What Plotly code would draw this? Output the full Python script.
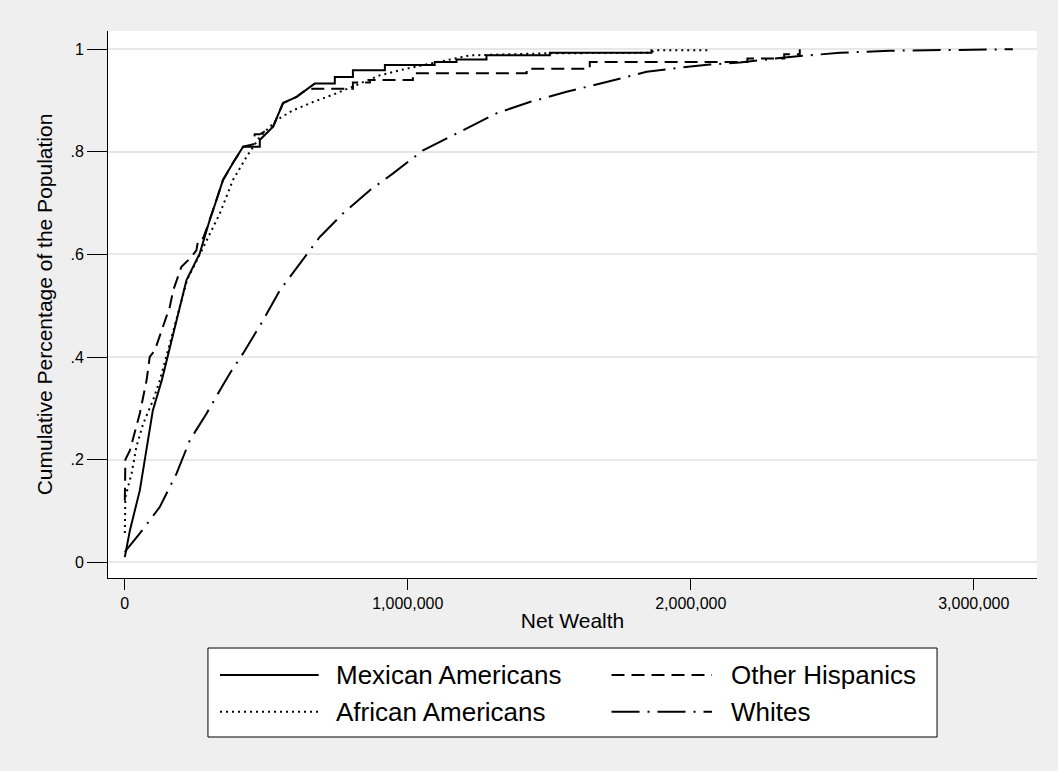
import plotly.graph_objects as go

# ---------------- data (net wealth in dollars, cumulative share) ----------------
mex_wealth = [0, 18e3, 53e3, 71e3, 99e3, 131e3, 183e3, 218e3, 265e3, 300e3, 324e3, 347e3,
              382e3, 418e3, 477e3, 477e3, 524e3, 559e3, 607e3, 630e3, 671e3, 742e3, 742e3,
              806e3, 806e3, 919e3, 919e3, 1095e3, 1095e3, 1172e3, 1172e3, 1278e3, 1278e3,
              1502e3, 1502e3, 1861e3, 1861e3]
mex_cum = [0.01, 0.062, 0.140, 0.199, 0.296, 0.355, 0.472, 0.550, 0.602, 0.667, 0.706, 0.745,
           0.778, 0.810, 0.810, 0.823, 0.849, 0.895, 0.907, 0.917, 0.933, 0.933, 0.946,
           0.946, 0.959, 0.959, 0.969, 0.969, 0.975, 0.975, 0.980, 0.980, 0.988,
           0.988, 0.993, 0.993, 1.0]

oth_wealth = [0, 2e3, 18e3, 35e3, 53e3, 77e3, 88e3, 106e3, 135e3, 159e3, 171e3, 200e3, 230e3,
              253e3, 259e3, 277e3, 300e3, 324e3, 347e3, 382e3, 418e3, 455e3, 459e3, 477e3,
              524e3, 559e3, 607e3, 630e3, 665e3, 806e3, 806e3, 866e3, 866e3, 1018e3, 1018e3,
              1420e3, 1420e3, 1643e3, 1643e3, 2200e3, 2200e3, 2330e3, 2330e3, 2385e3, 2385e3]
oth_cum = [0.12, 0.20, 0.218, 0.251, 0.290, 0.355, 0.400, 0.413, 0.462, 0.498, 0.530, 0.576, 0.592,
           0.608, 0.628, 0.632, 0.667, 0.706, 0.745, 0.778, 0.810, 0.815, 0.834, 0.834,
           0.849, 0.895, 0.907, 0.917, 0.923, 0.923, 0.935, 0.935, 0.940, 0.940, 0.953,
           0.953, 0.962, 0.962, 0.975, 0.975, 0.982, 0.982, 0.990, 0.990, 1.0]

afr_wealth = [0, 2e3, 24e3, 41e3, 65e3, 100e3, 124e3, 180e3, 220e3, 265e3, 336e3, 382e3, 430e3,
              477e3, 536e3, 595e3, 665e3, 748e3, 830e3, 900e3, 995e3, 1078e3, 1219e3, 1490e3,
              1860e3, 1870e3, 2067e3, 2067e3]
afr_cum = [0.057, 0.127, 0.173, 0.225, 0.270, 0.316, 0.355, 0.470, 0.550, 0.600, 0.680, 0.745, 0.790,
           0.829, 0.862, 0.881, 0.897, 0.914, 0.933, 0.949, 0.962, 0.972, 0.988, 0.992,
           0.993, 0.998, 0.998, 1.0]

wht_wealth = [0, 53e3, 124e3, 183e3, 230e3, 289e3, 336e3, 371e3, 418e3, 489e3, 548e3, 618e3,
              689e3, 771e3, 866e3, 948e3, 1054e3, 1195e3, 1313e3, 1431e3, 1561e3, 1702e3,
              1844e3, 1961e3, 2067e3, 2173e3, 2350e3, 2527e3, 2703e3, 2996e3, 3138e3]
wht_cum = [0.02, 0.056, 0.108, 0.173, 0.238, 0.290, 0.335, 0.368, 0.407, 0.472, 0.530, 0.582,
           0.634, 0.680, 0.725, 0.758, 0.803, 0.842, 0.875, 0.897, 0.917, 0.936,
           0.956, 0.964, 0.970, 0.974, 0.985, 0.993, 0.997, 0.999, 1.0]

series_names = ["Mexican Americans", "Other Hispanics", "African Americans", "Whites"]

x_tickvals = [0, 1_000_000, 2_000_000, 3_000_000]
x_ticktext = ["0", "1,000,000", "2,000,000", "3,000,000"]
y_tickvals = [0, 0.2, 0.4, 0.6, 0.8, 1.0]
y_ticktext = ["0", ".2", ".4", ".6", ".8", "1"]

x_title = "Net Wealth"
y_title = "Cumulative Percentage of the Population"

# ---------------- styles ----------------
FONT = "Liberation Sans, Arial, Helvetica, sans-serif"
dashes = ["solid", "13px,7px", "2px,4px", "28px,8px,2px,8px"]
LW = 2

data = [(mex_wealth, mex_cum), (oth_wealth, oth_cum), (afr_wealth, afr_cum), (wht_wealth, wht_cum)]

fig = go.Figure()
for (xs, ys), name, dash in zip(data, series_names, dashes):
    fig.add_trace(go.Scatter(x=xs, y=ys, mode="lines", name=name,
                             line=dict(color="black", width=LW, dash=dash),
                             showlegend=False))

# ---------------- manual legend box (layout decoration) ----------------
shapes = [dict(type="rect", xref="paper", yref="paper", x0=0.1076, x1=0.8924, y0=-0.2907, y1=-0.128,
               fillcolor="white", line=dict(color="black", width=1), layer="above")]
annotations = []
leg_rows = [-0.1773, -0.1773, -0.2444, -0.2444]
leg_line_x = [(0.1206, 0.2268), (0.5420, 0.6502), (0.1206, 0.2268), (0.5420, 0.6502)]
leg_text_x = [0.2431, 0.6681, 0.2431, 0.6681]
for name, dash, yy, (lx0, lx1), tx in zip(series_names, dashes, leg_rows, leg_line_x, leg_text_x):
    shapes.append(dict(type="line", xref="paper", yref="paper", x0=lx0, x1=lx1, y0=yy, y1=yy,
                       line=dict(color="black", width=LW, dash=dash), layer="above"))
    annotations.append(dict(xref="paper", yref="paper", x=tx, y=yy, text=name, showarrow=False,
                            xanchor="left", yanchor="middle",
                            font=dict(family=FONT, size=26, color="black")))

fig.update_layout(
    width=1058, height=771,
    margin=dict(l=108, r=21, t=31, b=193),
    paper_bgcolor="#efefef",
    plot_bgcolor="white",
    font=dict(family=FONT, color="black"),
    shapes=shapes,
    annotations=annotations,
    showlegend=False,
)
fig.update_xaxes(
    range=[-59400, 3223300],
    tickvals=x_tickvals, ticktext=x_ticktext,
    ticks="outside", ticklen=11, tickwidth=1, tickcolor="black",
    showline=True, linecolor="black", linewidth=1,
    showgrid=False, zeroline=False,
    tickfont=dict(size=16, family=FONT, color="black"),
    title=dict(text=x_title, font=dict(size=21, family=FONT, color="black"), standoff=2),
)
fig.update_yaxes(
    range=[-0.0308, 1.0355],
    tickvals=y_tickvals, ticktext=y_ticktext,
    ticks="outside", ticklen=20, tickwidth=1, tickcolor="black",
    showline=True, linecolor="black", linewidth=1,
    showgrid=True, gridcolor="#e8e8e8", gridwidth=2, zeroline=False,
    tickfont=dict(size=16, family=FONT, color="black"),
    title=dict(text=y_title, font=dict(size=21, family=FONT, color="black"), standoff=12),
)

fig.write_html(
    "out.html",
    config={"displayModeBar": False},
    post_script="document.body.style.margin='0';document.body.style.background='#efefef';"
                "document.documentElement.style.overflow='hidden';",
)
